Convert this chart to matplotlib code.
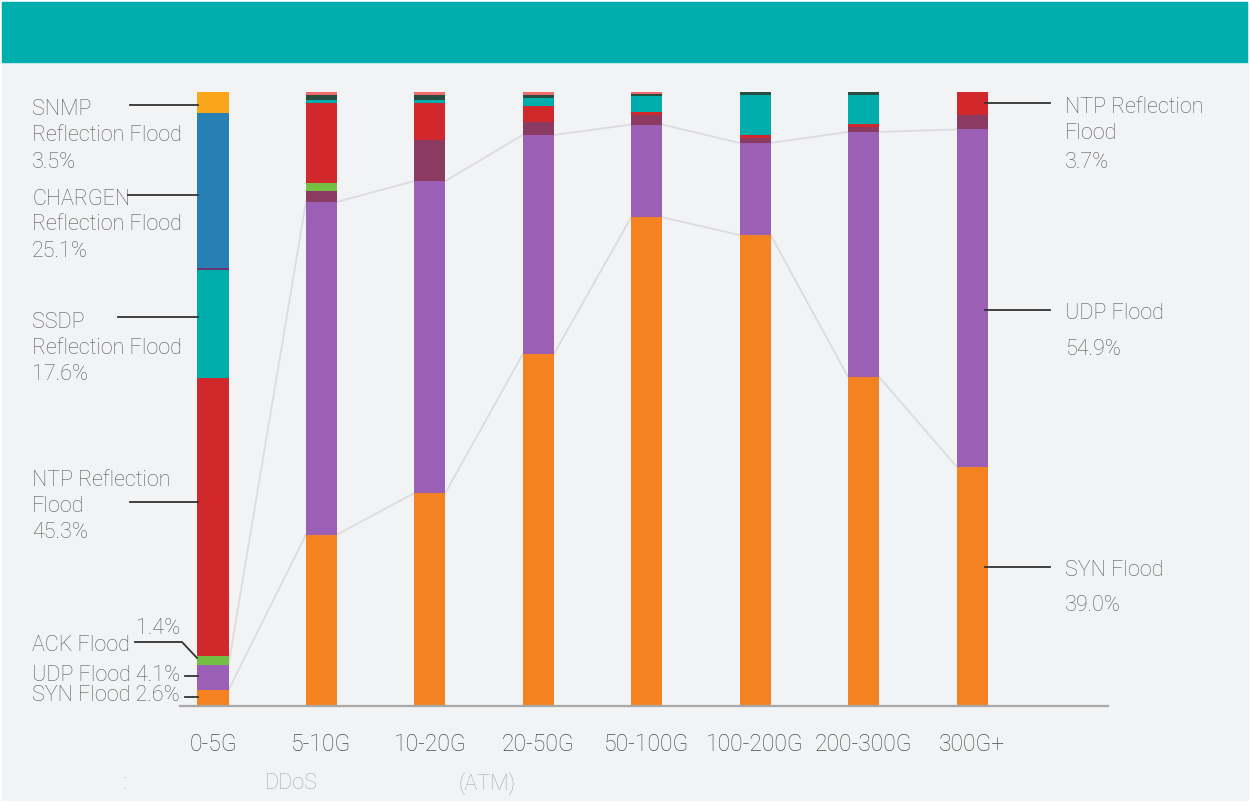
import numpy as np
import matplotlib.pyplot as plt
from matplotlib.patches import Rectangle
from matplotlib.lines import Line2D

plt.rcParams['font.family'] = ['Roboto', 'DejaVu Sans']
plt.rcParams['font.weight'] = 'light'

# data (percent of attacks per traffic bucket)
categories = ['0-5G', '5-10G', '10-20G', '20-50G', '50-100G', '100-200G', '200-300G', '300G+']
syn_flood = [2.6, 27.9, 34.7, 57.3, 79.6, 76.7, 53.6, 39.0]
udp_flood = [4.1, 54.2, 50.8, 35.7, 15.1, 15.0, 39.9, 54.9]
other_udp = [0, 1.8, 6.7, 2.1, 1.6, 0.8, 0.8, 2.4]
ack_flood = [1.4, 1.3, 0, 0, 0, 0, 0, 0]
ntp_refl = [45.3, 13.0, 6.0, 2.6, 0.5, 0.5, 0.5, 3.7]
ssdp_refl = [17.6, 0.5, 0.5, 1.3, 2.6, 6.5, 4.7, 0]
other_small = [0.4, 0, 0, 0, 0, 0, 0, 0]
chargen_refl = [25.1, 0, 0, 0, 0, 0, 0, 0]
other_dark = [0, 0.8, 0.8, 0.5, 0.2, 0.5, 0.5, 0]
snmp_refl = [3.5, 0, 0, 0, 0, 0, 0, 0]
other_pink = [0, 0.5, 0.5, 0.5, 0.4, 0, 0, 0]

series = [syn_flood, udp_flood, other_udp, ack_flood, ntp_refl, ssdp_refl,
          other_small, chargen_refl, other_dark, snmp_refl, other_pink]
colors = ['#F58220', '#9B5FB5', '#8B3B62', '#72BF44', '#D0282B', '#00ADAD',
          '#6B3575', '#2680B4', '#264D40', '#F9A61A', '#F06B6B']

W, H = 1250, 803
fig = plt.figure(figsize=(12.5, 8.03), dpi=100, facecolor='white')


def fx(x, y):
    return x / W, 1 - y / H


# background + header band
fig.add_artist(Rectangle((2 / W, 1 - 801 / H), 1246 / W, 798 / H,
                         transform=fig.transFigure, color='#F2F3F5', zorder=0))
fig.add_artist(Rectangle((2 / W, 1 - 63 / H), 1245 / W, 60 / H,
                         transform=fig.transFigure, color='#00AEAD', zorder=1))

# axes: baseline from px 180 to 1108, y from 706 (0%) to 92 (100%)
step = 108.43
ax = fig.add_axes([180 / W, 1 - 707 / H, 928 / W, 614 / H])
ax.set_facecolor('none')
x = np.arange(len(categories))
bw = 0.286
bottom = np.zeros(len(categories))
for vals, c in zip(series, colors):
    ax.bar(x, vals, bw, bottom=bottom, color=c, linewidth=0, zorder=3)
    bottom += np.array(vals)

ax.set_xlim((180 - 213) / step, (1108 - 213) / step)
ax.set_ylim(0, 100)
for s in ax.spines.values():
    s.set_visible(False)
ax.axhline(0, color='#A8A8A8', lw=1.6, zorder=4, clip_on=False)
ax.set_yticks([])
ax.set_xticks(x)
ax.set_xticklabels(categories, fontsize=16.5, color='#4A4A4A')
ax.tick_params(axis='x', length=0, pad=19)

# connector lines between segment tops
syn_top = np.array(syn_flood)
udp_top = syn_top + np.array(udp_flood)
for tops in (syn_top, udp_top):
    for i in range(len(categories) - 1):
        ax.plot([x[i] + bw / 2, x[i + 1] - bw / 2], [tops[i], tops[i + 1]],
                color='#DCDCDE', lw=1.3, zorder=2)

txt_kw = dict(fontsize=15.5, color='#5A5A5A', va='center', ha='left')


def label(px, py, s, **kw):
    k = dict(txt_kw)
    k.update(kw)
    fig.text(*fx(px, py + 2.5), s, **k)


def line(pts):
    xs = [p[0] / W for p in pts]
    ys = [1 - p[1] / H for p in pts]
    fig.add_artist(Line2D(xs, ys, transform=fig.transFigure, color='#333333', lw=1.3, zorder=5))


# left annotations
label(32, 107, 'SNMP')
label(32, 133, 'Reflection Flood')
label(32, 160, '3.5%')
line([(130, 106), (198, 106)])

label(32, 197, 'CHARGEN')
label(32, 222, 'Reflection Flood')
label(32, 249, '25.1%')
line([(128, 196), (198, 196)])

label(32, 320, 'SSDP')
label(32, 346, 'Reflection Flood')
label(32, 372, '17.6%')
line([(118, 318), (198, 318)])

label(32, 478, 'NTP Reflection')
label(32, 504, 'Flood')
label(32, 530, '45.3%')
line([(130, 503), (198, 503)])

label(136, 626, '1.4%')
label(32, 643, 'ACK Flood')
line([(135, 643), (182, 643), (197, 659)])
label(32, 673, 'UDP Flood 4.1%')
line([(185, 677), (198, 677)])
label(32, 693, 'SYN Flood 2.6%')
line([(185, 698), (198, 698)])

# right annotations
label(1065, 105, 'NTP Reflection')
label(1065, 131, 'Flood')
label(1065, 160, '3.7%')
line([(985, 104), (1050, 104)])

label(1065, 311, 'UDP Flood')
label(1065, 347, '54.9%')
line([(985, 311), (1050, 311)])

label(1065, 568, 'SYN Flood')
label(1065, 603, '39.0%')
line([(985, 568), (1050, 568)])

# footer
label(123, 781, ':', color='#AAAAAA', fontsize=15.5)
label(265, 781, 'DDoS', color='#AAAAAA', fontsize=15.5)
label(458, 781, '(ATM)', color='#AAAAAA', fontsize=15.5)

fig.savefig('out.png', dpi=100, facecolor='white')
